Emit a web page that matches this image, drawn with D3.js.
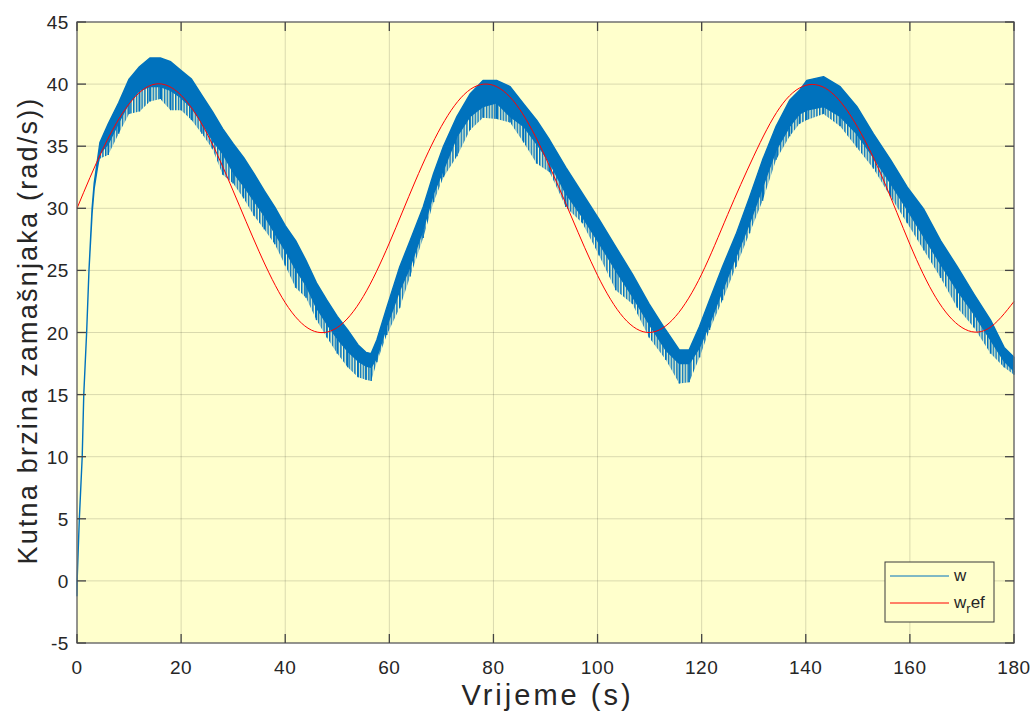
<!DOCTYPE html>
<html>
<head>
<meta charset="utf-8">
<script src="https://cdn.jsdelivr.net/npm/d3@7/dist/d3.min.js"></script>
<style>
    body { margin: 0; background: #fff; }
    text { font-family: "Liberation Sans", Arial, Helvetica, sans-serif; fill: #262626; }
</style>
</head>
<body>
<div id="chart"></div>
<script>
// axis ticks
var xTicks = [0, 20, 40, 60, 80, 100, 120, 140, 160, 180];
var yTicks = [-5, 0, 5, 10, 15, 20, 25, 30, 35, 40, 45];

// w_ref (red)
var refTime  = [0, 5, 10, 15, 20, 25, 30, 35, 40, 45, 50, 55, 60, 65, 70, 75, 80, 85, 90,
                95, 100, 105, 110, 115, 120, 125, 130, 135, 140, 145, 150, 155, 160, 165, 170, 175, 180];
var refValue = [30, 34.8, 38.4, 40.0, 39.1, 36.0, 31.4, 26.5, 22.4, 20.2, 20.4, 22.9, 27.2, 32.2, 36.6, 39.4, 39.9, 38.0, 34.1,
                29.3, 24.6, 21.2, 20.0, 21.3, 24.7, 29.5, 34.2, 38.1, 39.9, 39.3, 36.5, 32.2, 27.1, 22.8, 20.4, 20.3, 22.5];

// w (blue): noisy band, upper / lower edge and depth of the downward spikes
var wTime  = [0, 0.05, 0.45, 1.0, 1.3, 1.85, 2.3, 2.9, 3.3, 3.9, 4.4, 6, 8, 10, 12, 14, 16, 18, 20, 22, 24, 26, 28, 30,
              32, 34, 36, 38, 40, 42, 44, 46, 48, 50, 52, 54, 55.5, 56.5, 57.6, 59.5, 62, 64, 66.5, 68.5, 70.4, 73,
              75.5, 78, 80.6, 83.2, 85.8, 88.3, 90.8, 93.9, 97.1, 100.3, 103.5, 106.7, 109.9, 113.1, 115.7, 117.6,
              119.6, 121.5, 124, 126.6, 129.2, 131.7, 134.3, 136.9, 138.8, 140.2, 143.4, 146.6, 149.8, 153, 156.3,
              159.5, 162.7, 165.9, 169.1, 172.3, 175.5, 178.1, 180];
var wUpper = [0, 0.4, 5, 10, 15, 20, 25, 30, 32, 33.8, 35.3, 36.8, 38.5, 40.4, 41.4, 42.1, 42.1, 41.8, 41.1, 40.4, 39.1, 37.8, 36.4, 35.2,
              34.1, 32.8, 31.4, 30.1, 28.6, 27.4, 25.8, 24.0, 22.6, 21.3, 20.2, 19.0, 18.4, 18.3, 19.4, 22.0, 25.3, 27.4, 30.1, 32.8, 35.0, 37.4,
              39.2, 40.3, 40.3, 39.8, 38.4, 37.1, 35.5, 33.3, 31.2, 29.1, 26.9, 24.7, 22.3, 20.2, 18.6, 18.6,
              20.5, 22.6, 25.3, 27.9, 30.9, 33.9, 36.6, 38.7, 39.5, 40.3, 40.6, 39.8, 38.2, 36.0, 33.9,
              31.7, 29.9, 27.4, 25.3, 23.1, 21.0, 18.8, 18.0];
var wLower = [-1.2, 0.3, 5, 10, 15, 20, 25, 29.6, 31.6, 33.2, 34.4, 35.2, 36.9, 38.5, 39.5, 39.8, 39.8, 39.5, 38.9, 38.1, 36.9, 35.5, 34.4, 32.9,
              31.8, 30.6, 29.4, 28.0, 26.6, 25.1, 23.8, 22.0, 20.7, 19.5, 18.5, 17.7, 17.3, 17.2, 18.0, 20.5, 23.4, 25.3, 28.3, 31.2, 33.1, 35.8,
              37.4, 38.2, 38.5, 37.4, 36.6, 35.2, 33.7, 31.2, 29.3, 27.2, 25.0, 22.9, 20.7, 18.6, 17.5, 17.5,
              18.8, 20.7, 23.4, 26.1, 28.8, 31.7, 34.7, 36.6, 37.6, 37.9, 38.2, 37.4, 36.0, 34.1, 32.0,
              29.9, 27.7, 25.5, 23.4, 21.5, 19.4, 17.7, 16.9];
var wSpike = [-1.2, 0.3, 5, 10, 15, 20, 25, 29.6, 31.6, 33.2, 34.0, 34.3, 36.0, 37.6, 37.8, 38.6, 38.8, 37.9, 37.9, 37.1, 36.0, 34.8, 32.7, 32.0,
              30.8, 29.4, 28.3, 27.1, 25.4, 23.6, 22.8, 21.0, 19.6, 18.3, 17.2, 16.4, 16.2, 16.1, 17.6, 19.8, 22.0, 24.5, 27.6, 30.5, 32.5, 34.2,
              36.3, 37.3, 37.2, 36.9, 35.3, 33.6, 32.9, 30.1, 28.8, 26.2, 23.4, 22.3, 19.6, 17.8, 15.9, 16.0,
              18.0, 20.2, 22.6, 25.3, 28.0, 30.6, 33.9, 35.8, 36.8, 37.1, 37.6, 36.6, 34.9, 33.2, 30.9,
              28.8, 26.6, 24.4, 22.0, 20.4, 18.3, 17.2, 16.6];

var seriesNames = ["w", "ref"];
var seriesColors = ["#0072BD", "#FF0000"];

var chart = {};
chart.width = 1032;
chart.height = 716;
chart.margin = { left: 77, top: 22, right: 18, bottom: 73 };
chart.bg = "#FFFFCC";

var w = chart.width - chart.margin.left - chart.margin.right;
var h = chart.height - chart.margin.top - chart.margin.bottom;

var xScale = d3.scaleLinear().domain([0, 180]).range([0, w]);
var yScale = d3.scaleLinear().domain([-5, 45]).range([h, 0]);

var svg = d3.select("#chart").append("svg")
    .attr("width", chart.width)
    .attr("height", chart.height);

// dense vertical strokes for the spiky lower fringe of w
var pattern = svg.append("defs").append("pattern")
    .attr("id", "spikes")
    .attr("patternUnits", "userSpaceOnUse")
    .attr("width", 2.8).attr("height", 10);
pattern.append("rect")
    .attr("width", 1.5).attr("height", 10)
    .attr("fill", seriesColors[0]);

var group = svg.append("g")
    .attr("transform", "translate(" + chart.margin.left + "," + chart.margin.top + ")");

group.append("rect")
    .attr("width", w)
    .attr("height", h)
    .attr("fill", chart.bg);

// grid
group.selectAll(".xgrid").data(xTicks).enter().append("line")
    .attr("class", "xgrid")
    .attr("x1", function (d) { return xScale(d); })
    .attr("x2", function (d) { return xScale(d); })
    .attr("y1", 0).attr("y2", h)
    .attr("stroke", "#000").attr("stroke-opacity", 0.15);
group.selectAll(".ygrid").data(yTicks).enter().append("line")
    .attr("class", "ygrid")
    .attr("y1", function (d) { return yScale(d); })
    .attr("y2", function (d) { return yScale(d); })
    .attr("x1", 0).attr("x2", w)
    .attr("stroke", "#000").attr("stroke-opacity", 0.15);

var plot = group.append("g");

var wData = wTime.map(function (t, i) {
    return { t: t, hi: wUpper[i], lo: wLower[i], sp: wSpike[i] };
});

// fringe of downward spikes
plot.append("path")
    .datum(wData)
    .attr("fill", "url(#spikes)")
    .attr("d", d3.area()
        .x(function (d) { return xScale(d.t); })
        .y0(function (d) { return yScale(d.sp); })
        .y1(function (d) { return yScale(d.lo); }));

plot.selectAll(".spike").data(wData).enter().append("line")
    .attr("class", "spike")
    .attr("x1", function (d) { return xScale(d.t); })
    .attr("x2", function (d) { return xScale(d.t); })
    .attr("y1", function (d) { return yScale(d.lo); })
    .attr("y2", function (d) { return yScale(d.sp); })
    .attr("stroke", seriesColors[0])
    .attr("stroke-width", 1.5);

// main band
plot.append("path")
    .datum(wData)
    .attr("fill", seriesColors[0])
    .attr("stroke", seriesColors[0])
    .attr("stroke-width", 1.4)
    .attr("stroke-linejoin", "round")
    .attr("d", d3.area()
        .x(function (d) { return xScale(d.t); })
        .y0(function (d) { return yScale(d.lo); })
        .y1(function (d) { return yScale(d.hi); }));

// reference
var refData = refTime.map(function (t, i) { return { t: t, v: refValue[i] }; });
plot.append("path")
    .datum(refData)
    .attr("fill", "none")
    .attr("stroke", seriesColors[1])
    .attr("stroke-width", 1)
    .attr("d", d3.line()
        .curve(d3.curveNatural)
        .x(function (d) { return xScale(d.t); })
        .y(function (d) { return yScale(d.v); }));

// box + inward ticks
var axisColor = "#6e6e6e";
group.append("rect")
    .attr("width", w).attr("height", h)
    .attr("fill", "none")
    .attr("stroke", axisColor)
    .attr("stroke-width", 1.4);

var tickLen = 9;
[0, h].forEach(function (y0) {
    group.selectAll(null).data(xTicks).enter().append("line")
        .attr("x1", function (d) { return xScale(d); })
        .attr("x2", function (d) { return xScale(d); })
        .attr("y1", y0)
        .attr("y2", y0 === 0 ? tickLen : h - tickLen)
        .attr("stroke", "#444").attr("stroke-width", 1.3);
});
[0, w].forEach(function (x0) {
    group.selectAll(null).data(yTicks).enter().append("line")
        .attr("y1", function (d) { return yScale(d); })
        .attr("y2", function (d) { return yScale(d); })
        .attr("x1", x0)
        .attr("x2", x0 === 0 ? tickLen : w - tickLen)
        .attr("stroke", "#444").attr("stroke-width", 1.3);
});

// tick labels
group.selectAll(".xlab").data(xTicks).enter().append("text")
    .attr("class", "xlab")
    .attr("x", function (d) { return xScale(d); })
    .attr("y", h + 31)
    .attr("text-anchor", "middle")
    .style("font-size", "19px")
    .style("letter-spacing", "0.6px")
    .text(function (d) { return d; });
group.selectAll(".ylab").data(yTicks).enter().append("text")
    .attr("class", "ylab")
    .attr("x", -8)
    .attr("y", function (d) { return yScale(d) + 7; })
    .attr("text-anchor", "end")
    .style("font-size", "19px")
    .style("letter-spacing", "0.6px")
    .text(function (d) { return d; });

// axis titles
svg.append("text")
    .attr("x", chart.margin.left + w / 2 + 2)
    .attr("y", 705)
    .attr("text-anchor", "middle")
    .style("font-size", "29px")
    .style("letter-spacing", "3px")
    .text("Vrijeme (s)");
svg.append("text")
    .attr("transform", "translate(37," + (chart.margin.top + h / 2 - 2) + ") rotate(-90)")
    .attr("text-anchor", "middle")
    .style("font-size", "27px")
    .style("letter-spacing", "2.2px")
    .text("Kutna brzina zamašnjaka (rad/s))");

// legend
var legend = svg.append("g").attr("transform", "translate(885,562)");
legend.append("rect")
    .attr("width", 109).attr("height", 60)
    .attr("fill", chart.bg)
    .attr("stroke", "#3a3a3a")
    .attr("stroke-width", 1);
seriesNames.forEach(function (name, i) {
    var ly = 14 + i * 27;
    legend.append("line")
        .attr("x1", 5).attr("x2", 64)
        .attr("y1", ly).attr("y2", ly)
        .attr("stroke", seriesColors[i])
        .attr("stroke-width", 1);
    var t = legend.append("text")
        .attr("x", 69).attr("y", ly + 5)
        .style("font-size", "17px");
    t.append("tspan").text("w");
    if (name === "ref") {
        t.append("tspan").attr("dy", 5).style("font-size", "13px").text("r");
        t.append("tspan").attr("dy", -5).text("ef");
    }
});
</script>
</body>
</html>
